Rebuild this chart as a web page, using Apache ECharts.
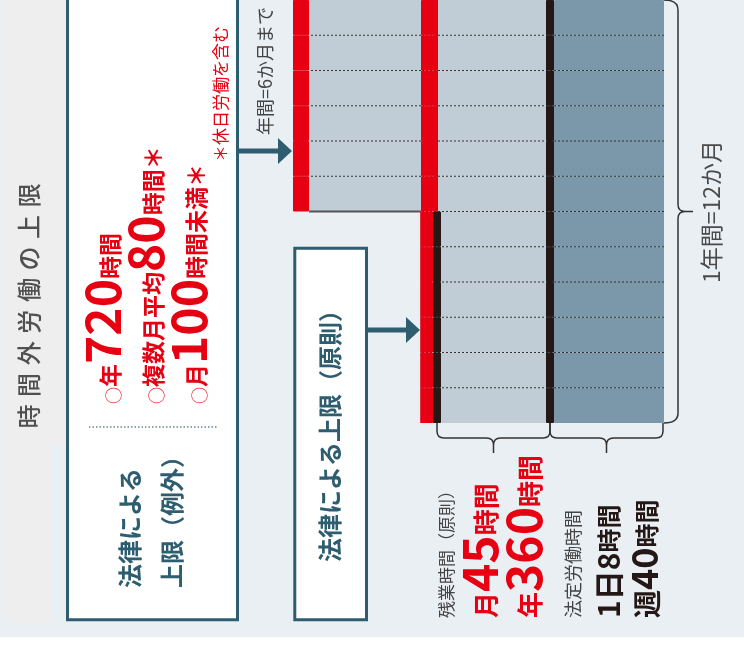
<!DOCTYPE html>
<html><head><meta charset="utf-8">
<script src="https://cdn.jsdelivr.net/npm/echarts@6/dist/echarts.min.js"></script>
<style>html,body{margin:0;padding:0;background:#fff}#c{width:744px;height:652px}</style>
</head><body><div id="c"></div>
<script>
// ---- data (schematic widths of each band, per month row) ----
const months = ['1月','2月','3月','4月','5月','6月','7月','8月','9月','10月','11月','12月'];
const legalHours     = [110,110,110,110,110,110,110,110,110,110,110,110]; // 法定労働時間
const legalEdge      = [8,8,8,8,8,8,8,8,8,8,8,8];
const overtimeHours  = [109,109,109,109,109,109,105,105,105,105,105,105]; // 残業時間（原則）
const overtimeEdge   = [0,0,0,0,0,0,8,8,8,8,8,8];
const principleLimit = [16,16,16,16,16,16,12,12,12,12,12,12];
const extraHours     = [112,112,112,112,112,112,0,0,0,0,0,0];             // 例外（年6か月まで）
const extraLimit     = [16,16,16,16,16,16,0,0,0,0,0,0];
const titleChars = '時間外労働の上限';

const FF = "'Noto Sans CJK JP','Noto Sans',sans-serif";
const RED = '#e60012', TEAL = '#2f5d70', INK = '#444444', BLACK = '#231815';
const LIGHT = '#c0cdd6', DARK = '#7a98a9';

const chart = echarts.init(document.getElementById('c'));

function bar(data, color, z) {
  return {type:'bar', stack:'m', data, barCategoryGap:'0%', silent:true, z,
    itemStyle:{color, borderColor:color, borderWidth:1}};
}
const XMAX = legalHours[0]+legalEdge[0]+overtimeHours[0]+overtimeEdge[0]+principleLimit[0]+extraHours[0]+extraLimit[0];
const last = months.length - 1;

// dashed month separators (and solid edge under the exception block)
const dashData = [];
for (let r = 0; r < last; r++) {
  const base = legalHours[r]+legalEdge[r]+overtimeHours[r]+overtimeEdge[r]+principleLimit[r];
  dashData.push([r, 0, base, 0]);
  if (extraHours[r] > 0) dashData.push([r, base, base + extraHours[r], extraHours[r+1] > 0 ? 0 : 1]);
}

function braceRender(params, api) {
  const c0 = api.coord([0, 0]), cL = api.coord([0, last]);
  const band = api.size([0, 1])[1];
  const xR = c0[0], yTop = c0[1] - band/2, yBot = cL[1] + band/2, yMid = (yTop + yBot)/2;
  const xB1 = api.coord([legalHours[last] + legalEdge[last]/2, last])[0];
  const xB0 = api.coord([legalHours[last] + legalEdge[last] + overtimeHours[last] + overtimeEdge[last]/2, last])[0];
  const bx = xR + 14;
  const right = `M${xR},${yTop} Q${bx},${yTop} ${bx},${yTop+10} L${bx},${yMid-7} Q${bx},${yMid} ${bx+7},${yMid} L${bx+15},${yMid} M${bx+7},${yMid} Q${bx},${yMid} ${bx},${yMid+7} L${bx},${yBot-10} Q${bx},${yBot} ${xR},${yBot}`;
  function hb(x1, x2) {
    const y0 = yBot, y1 = yBot + 15, y2 = yBot + 30, m = (x1 + x2)/2, r = 7;
    return `M${x1},${y0} L${x1},${y1-r} Q${x1},${y1} ${x1+r},${y1} L${m-r},${y1} Q${m},${y1} ${m},${y1+r} L${m},${y2} M${m},${y1+r} Q${m},${y1} ${m+r},${y1} L${x2-r},${y1} Q${x2},${y1} ${x2},${y1-r} L${x2},${y0}`;
  }
  const st = {fill:null, stroke:'#333', lineWidth:1.5};
  return {type:'group', children:[
    {type:'path', shape:{pathData:right}, style:st},
    {type:'path', shape:{pathData:hb(xB0, xB1)}, style:st},
    {type:'path', shape:{pathData:hb(xB1, xR - 1)}, style:st}
  ]};
}

chart.setOption({
  backgroundColor:'#eaeff4',
  animation:false,
  grid:{left:293, right:80, top:-3, bottom:229},
  xAxis:{type:'value', inverse:true, min:0, max:XMAX, show:false},
  yAxis:{type:'category', data:months, inverse:true, show:false},
  series:[
    bar(legalHours, DARK, 2),
    bar(legalEdge, BLACK, 4),
    bar(overtimeHours, LIGHT, 2),
    bar(overtimeEdge, BLACK, 4),
    bar(principleLimit, RED, 4),
    bar(extraHours, LIGHT, 2),
    bar(extraLimit, RED, 4),
    {type:'custom', z:3, silent:true, data:dashData, encode:{x:[1,2], y:0},
     renderItem(params, api){
       const r = api.value(0);
       const p1 = api.coord([api.value(1), r]);
       const p2 = api.coord([api.value(2), r]);
       const y = p1[1] + api.size([0,1])[1]/2;
       const solid = api.value(3) === 1;
       return {type:'line', shape:{x1:p1[0], y1:y, x2:p2[0], y2:y},
         style:{stroke: solid ? '#555' : '#333', lineWidth: solid ? 2 : 1, lineDash: solid ? null : [2,2]}};
     }},
    {type:'custom', z:5, silent:true, clip:false, data:[[0, 0]], encode:{x:0, y:1}, renderItem:braceRender}
  ]
});

const px = (v, r) => chart.convertToPixel({xAxisIndex:0, yAxisIndex:0}, [v, r]);
const band = Math.abs(px(0,1)[1] - px(0,0)[1]);
const yTop = px(0,0)[1] - band/2;
const yBot = px(0, last)[1] + band/2;
const yMid = (yTop + yBot)/2;
const xLeftEnd = px(XMAX,0)[0];
const xPrinciple = px(legalHours[last]+legalEdge[last]+overtimeHours[last]+overtimeEdge[last]+principleLimit[last], last)[0];

function vt(x, y, text, opt) {
  return {type:'text', x, y, rotation:Math.PI/2, z:20, silent:true,
    style:Object.assign({text, fontFamily:FF, align:'left', verticalAlign:'middle', fill:INK, fontSize:17}, opt)};
}
function rs(size, color, weight, padB) {
  return {fontFamily:FF, fontSize:size, fontWeight:weight||'bold', fill:color, verticalAlign:'bottom', lineHeight:size, padding:[0,0,padB||0,0]};
}
const redRich = {c:Object.assign(rs(17, RED, 'normal', 5), {opacity:0.85}), k:rs(23, RED, 'bold', 5), n:rs(48, RED, 'bold', 0), s:rs(26, RED, 'bold', 5)};
const blkRich = {a:rs(30, BLACK, 'bold', 0), b:rs(24, BLACK, 'bold', 3), w:rs(28, BLACK, 'bold', 1), n:rs(36, BLACK, 'bold', 0)};

const g = [];
g.push({type:'rect', shape:{x:0, y:637, width:744, height:15}, style:{fill:'#ffffff'}, z:1});
g.push({type:'rect', shape:{x:5, y:0, width:47, height:622}, style:{fill:'#eeeeee'}, z:1});
g.push({type:'rect', shape:{x:52, y:0, width:14, height:445}, style:{fill:'#eeeeee'}, z:1});
// title
for (let i = 0; i < titleChars.length; i++) {
  g.push({type:'text', x:28.5, y:416.5 - i*31.6, rotation:Math.PI/2, z:20, silent:true,
    style:{text:titleChars[i], fontFamily:FF, fontSize:24, fontWeight:500, fill:'#505050', align:'center', verticalAlign:'middle'}});
}
// boxes
g.push({type:'rect', shape:{x:67.5, y:-10, width:170, height:629.7}, style:{fill:'#ffffff', stroke:TEAL, lineWidth:3}, z:5});
g.push({type:'rect', shape:{x:294.8, y:248.3, width:71.7, height:371.4}, style:{fill:'#ffffff', stroke:TEAL, lineWidth:3}, z:5});
g.push({type:'line', shape:{x1:89, y1:427, x2:218, y2:427}, style:{stroke:'#6a8796', lineWidth:1.5, lineDash:[1.5,2]}, z:6});
// arrows
g.push({type:'line', shape:{x1:239, y1:151, x2:xLeftEnd-11, y2:151}, style:{stroke:TEAL, lineWidth:5}, z:6});
g.push({type:'polygon', shape:{points:[[xLeftEnd-15,138],[xLeftEnd-1,151],[xLeftEnd-15,164]]}, style:{fill:TEAL}, z:6});
g.push({type:'line', shape:{x1:368, y1:330, x2:xPrinciple-11, y2:330}, style:{stroke:TEAL, lineWidth:5}, z:6});
g.push({type:'polygon', shape:{points:[[xPrinciple-15,317],[xPrinciple-1,330],[xPrinciple-15,343]]}, style:{fill:TEAL}, z:6});

// texts
g.push(vt(265, 135, '年間=6か月まで', {fontSize:18, fill:INK}));
g.push(vt(221, 162, '＊休日労働を含む', {fontSize:17, fill:RED}));
g.push(vt(711, yMid, '1年間=12か月', {fontSize:23, fill:'#4a4a4a', align:'center'}));
g.push(vt(127, 404, '{c|○}{k|年}{n|720}{k|時間}', {verticalAlign:'bottom', rich:redRich}));
g.push(vt(170, 404, '{c|○}{k|複数月平均}{n|80}{k|時間＊}', {verticalAlign:'bottom', rich:redRich}));
g.push(vt(213, 404, '{c|○}{k|月}{n|100}{k|時間未満＊}', {verticalAlign:'bottom', rich:redRich}));
g.push(vt(130, 588, '法律による', {fontSize:24, fontWeight:'bold', fill:TEAL}));
g.push(vt(172, 588, '上限（例外）', {fontSize:24, fontWeight:'bold', fill:TEAL}));
g.push(vt(330, 562, '法律による上限（原則）', {fontSize:24, fontWeight:'bold', fill:TEAL}));
g.push(vt(447, 618, '残業時間（原則）', {fontSize:17, fill:INK}));
g.push(vt(504, 618, '{s|月}{n|45}{s|時間}', {verticalAlign:'bottom', rich:redRich}));
g.push(vt(548, 618, '{s|年}{n|360}{s|時間}', {verticalAlign:'bottom', rich:redRich}));
g.push(vt(573, 618, '法定労働時間', {fontSize:18, fill:INK}));
g.push(vt(624, 618, '{a|1日8}{b|時間}', {verticalAlign:'bottom', rich:blkRich}));
g.push(vt(662, 618, '{w|週}{n|40}{b|時間}', {verticalAlign:'bottom', rich:blkRich}));

chart.setOption({graphic:{elements:g}});
</script>
</body></html>
